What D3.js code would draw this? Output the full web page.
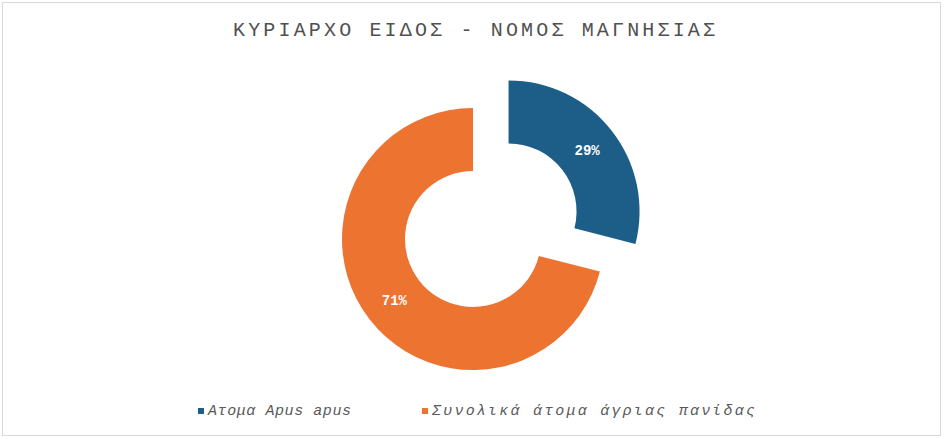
<!DOCTYPE html>
<html>
<head>
<meta charset="utf-8">
<script src="https://cdn.jsdelivr.net/npm/d3@7"></script>
<style>
  body { margin: 0; background: #fff; }
  text { font-family: "Courier New", "Liberation Mono", "DejaVu Sans Mono", monospace; }
</style>
</head>
<body>
<div id="chart"></div>
<script>
// data
const categories = ["Ατομα Apus apus", "Συνολικά άτομα άγριας πανίδας"]
const values = [29, 71]
const colors = ["#1d5e88", "#ed7331"]
const title = "ΚΥΡΙΑΡΧΟ ΕΙΔΟΣ - ΝΟΜΟΣ ΜΑΓΝΗΣΙΑΣ"

const width = 947
const height = 439

const svg = d3.select("#chart")
  .append("svg")
  .attr("width", width)
  .attr("height", height)

// chart border
svg.append("rect")
  .attr("x", 2.5).attr("y", 2.5)
  .attr("width", 938).attr("height", 433)
  .attr("fill", "#fff")
  .attr("stroke", "#d9d9d9")

svg.append("text")
  .attr("x", 474)
  .attr("y", 36)
  .attr("text-anchor", "middle")
  .attr("font-size", "20px")
  .attr("fill", "#505050")
  .attr("textLength", 482)
  .attr("lengthAdjust", "spacing")
  .text(title)

const cx = 473, cy = 239
const outerR = 131, innerR = 68
const explode = 45

const pie = d3.pie().sort(null).value(d => d)
const arc = d3.arc().innerRadius(innerR).outerRadius(outerR)
const arcs = pie(values)

const g = svg.append("g").attr("transform", "translate(" + cx + "," + cy + ")")

const slices = g.selectAll("g.slice")
  .data(arcs)
  .enter()
  .append("g")
  .attr("class", "slice")
  .attr("transform", function (d, i) {
    // only the first slice is pulled out
    if (i != 0) return null
    let a = (d.startAngle + d.endAngle) / 2
    return "translate(" + (explode * Math.sin(a)) + "," + (-explode * Math.cos(a)) + ")"
  })

slices.append("path")
  .attr("d", arc)
  .attr("fill", (d, i) => colors[i])

slices.append("text")
  .attr("transform", d => "translate(" + arc.centroid(d) + ")")
  .attr("text-anchor", "middle")
  .attr("dy", "0.35em")
  .attr("font-size", "14px")
  .attr("font-weight", "bold")
  .attr("fill", "#fff")
  .text(d => d.value + "%")

// legend
const legendX = [198, 422]
const legendLen = [143, 323]
const legend = svg.selectAll("g.legend")
  .data(categories)
  .enter()
  .append("g")
  .attr("class", "legend")

legend.append("rect")
  .attr("x", (d, i) => legendX[i])
  .attr("y", 408)
  .attr("width", 6)
  .attr("height", 6)
  .attr("fill", (d, i) => colors[i])

legend.append("text")
  .attr("x", (d, i) => legendX[i] + 10)
  .attr("y", 415)
  .attr("font-size", "15px")
  .attr("font-style", "italic")
  .attr("fill", "#595959")
  .attr("textLength", (d, i) => legendLen[i])
  .attr("lengthAdjust", "spacing")
  .text(d => d)
</script>
</body>
</html>
